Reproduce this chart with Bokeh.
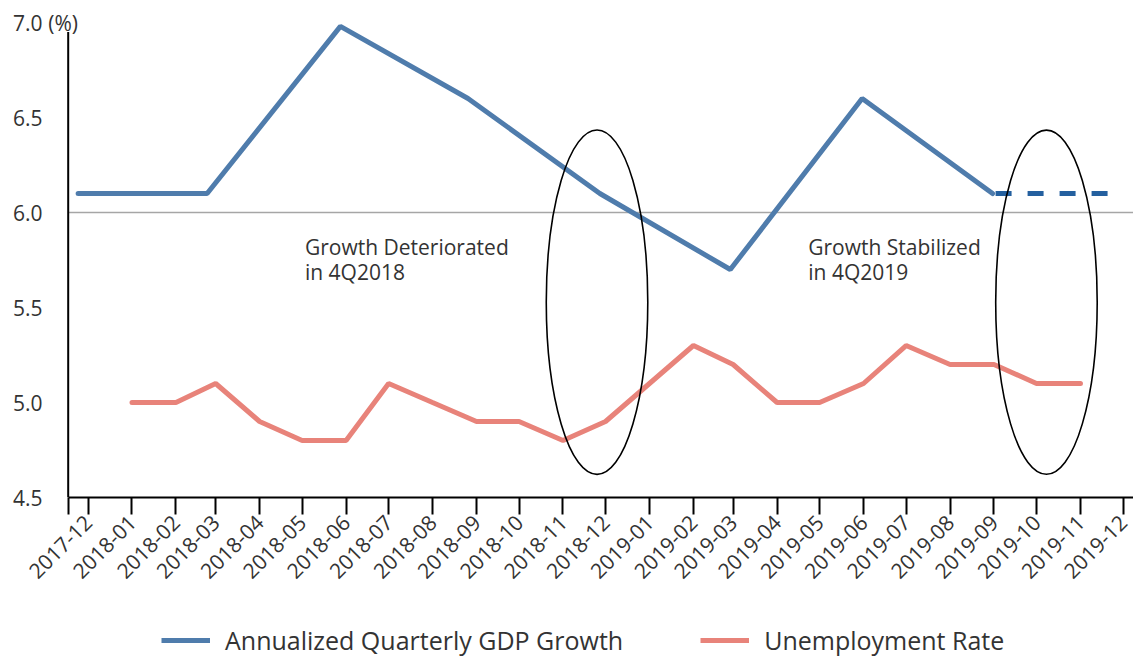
import math
import pandas as pd
from bokeh.plotting import figure
from bokeh.layouts import column
from bokeh.models import (FixedTicker, DatetimeTickFormatter, Legend, LegendItem,
                          ColumnDataSource)
from bokeh.embed import file_html
from bokeh.resources import INLINE
from bokeh.core.properties import value

# ---------------- data ----------------
month_labels = ["2017-12", "2018-01", "2018-02", "2018-03", "2018-04", "2018-05",
                "2018-06", "2018-07", "2018-08", "2018-09", "2018-10", "2018-11",
                "2018-12", "2019-01", "2019-02", "2019-03", "2019-04", "2019-05",
                "2019-06", "2019-07", "2019-08", "2019-09", "2019-10", "2019-11",
                "2019-12"]

gdp_dates = ["2017-11-24", "2018-02-23", "2018-05-28", "2018-08-26",
             "2018-11-27", "2019-02-27", "2019-05-31", "2019-08-31"]
gdp_values = [6.1, 6.1, 6.98, 6.6, 6.1, 5.7, 6.6, 6.1]

gdp_proj_dates = ["2019-08-31", "2019-11-21"]
gdp_proj_values = [6.1, 6.1]

unemp_months = ["2018-01", "2018-02", "2018-03", "2018-04", "2018-05", "2018-06",
                "2018-07", "2018-08", "2018-09", "2018-10", "2018-11", "2018-12",
                "2019-01", "2019-02", "2019-03", "2019-04", "2019-05", "2019-06",
                "2019-07", "2019-08", "2019-09", "2019-10", "2019-11"]
unemp_values = [5.0, 5.0, 5.1, 4.9, 4.8, 4.8, 5.1, 5.0, 4.9, 4.9, 4.8, 4.9,
                5.1, 5.3, 5.2, 5.0, 5.0, 5.1, 5.3, 5.2, 5.2, 5.1, 5.1]

y_ticks = [4.5, 5.0, 5.5, 6.0, 6.5, 7.0]
y_tick_labels = ["4.5", "5.0", "5.5", "6.0", "6.5", "7.0"]
y_unit = "(%)"
reference_level = 6.0

series_names = ["Annualized Quarterly GDP Growth", "Unemployment Rate"]
note_texts = ["Growth Deteriorated\nin 4Q2018", "Growth Stabilized\nin 4Q2019"]
note_dates = ["2018-05-03", "2019-04-23"]
ellipse_dates = ["2018-11-25", "2019-10-08"]

# ---------------- styling ----------------
FONT = "Open Sans"
TXT = "#333333"
BLUE = "#4f7cac"
BLUE_DARK = "#24609f"
SALMON = "#e8837a"
W = 1133
H_MAIN = 607
H_LEG = 52
FRAME_LEFT = 42

def ms(d):
    return pd.Timestamp(d).value / 1e6

axis_x = ms("2017-11-17")          # where the value axis line sits
view_start = ms("2017-10-29 21:00")
view_end = ms("2019-12-08 09:30")
axis_top = 6.95
y_base = y_ticks[0]

p = figure(width=W, height=H_MAIN, x_axis_type="datetime",
           x_range=(view_start, view_end), y_range=(y_base, 7.116),
           output_backend="svg", toolbar_location=None,
           min_border_left=FRAME_LEFT, min_border_right=0, min_border_top=0,
           min_border_bottom=H_MAIN - 497)
p.outline_line_color = None
p.grid.visible = False
p.background_fill_color = "white"
p.border_fill_color = "white"

# reference line at 6.0 (starts at the value axis)
p.segment(x0=[axis_x], y0=[reference_level], x1=[view_end], y1=[reference_level],
          line_color="#a6a6a6", line_width=1.5)

gdp_src = ColumnDataSource(dict(x=pd.to_datetime(gdp_dates), y=gdp_values))
proj_src = ColumnDataSource(dict(x=pd.to_datetime(gdp_proj_dates), y=gdp_proj_values))
un_src = ColumnDataSource(dict(x=pd.to_datetime(unemp_months), y=unemp_values))

p.line("x", "y", source=gdp_src, line_color=BLUE, line_width=5, line_cap="round")
p.line("x", "y", source=proj_src, line_color=BLUE_DARK, line_width=5,
       line_dash="16 16", line_dash_offset=-3)
p.line("x", "y", source=un_src, line_color=SALMON, line_width=5, line_cap="round")

# ellipses
ell_src = ColumnDataSource(dict(x=[ms(d) for d in ellipse_dates],
                                y=[5.528, 5.528]))
p.ellipse("x", "y", width=71.6 * 86400000, height=1.814, source=ell_src,
          fill_color=None, line_color="black", line_width=1.6)

# notes
note_src = ColumnDataSource(dict(x=[ms(d) for d in note_dates],
                                 y=[5.89, 5.89], t=note_texts))
p.text("x", "y", text="t", source=note_src, text_font=value(FONT),
       text_font_size="21px", text_color=TXT, text_baseline="top",
       text_align="left", text_line_height=0.87)

# value axis line and unit
p.segment(x0=[axis_x], y0=[y_base], x1=[axis_x], y1=[axis_top],
          line_color="black", line_width=2)
p.text(x=[axis_x], y=[y_ticks[-1]], text=[y_unit], text_font=value(FONT),
       text_font_size="21px", text_color=TXT, text_baseline="middle",
       text_align="left", x_offset=-20)

# y axis: only its labels are shown (line drawn above at the axis position)
ya = p.yaxis[0]
ya.ticker = FixedTicker(ticks=y_ticks)
ya.major_label_overrides = dict(zip(y_ticks, y_tick_labels))
ya.axis_line_color = None
ya.major_tick_line_color = None
ya.minor_tick_line_color = None
ya.major_tick_out = 0
ya.major_tick_in = 0
ya.major_label_standoff = 0
ya.major_label_text_font = FONT
ya.major_label_text_font_size = "21px"
ya.major_label_text_color = TXT

# x axis
xa = p.xaxis[0]
xa.bounds = (axis_x, view_end)
xa.ticker = FixedTicker(ticks=[ms(m) for m in month_labels], minor_ticks=[axis_x])
fmt = "%Y-%m"
xa.formatter = DatetimeTickFormatter(milliseconds=fmt, seconds=fmt, minsec=fmt,
                                     minutes=fmt, hourmin=fmt, hours=fmt,
                                     days=fmt, months=fmt, years=fmt)
xa.major_label_orientation = math.pi / 4
xa.axis_line_color = "black"
xa.axis_line_width = 2
xa.major_tick_line_color = "black"
xa.major_tick_line_width = 2
xa.major_tick_out = 17
xa.major_tick_in = 0
xa.minor_tick_line_color = "black"
xa.minor_tick_line_width = 2
xa.minor_tick_out = 17
xa.minor_tick_in = 0
xa.major_label_standoff = 4
xa.major_label_text_font = FONT
xa.major_label_text_font_size = "21px"
xa.major_label_text_color = TXT

# legend strip
lg = figure(width=W, height=H_LEG, output_backend="svg", toolbar_location=None,
            x_axis_location=None, y_axis_location=None,
            x_range=(0, 1), y_range=(0, 1), min_border=0,
            min_border_left=0, min_border_right=0)
lg.outline_line_color = None
lg.grid.visible = False
r_gdp = lg.line(x=[-2, -1], y=[-2, -1], line_color=BLUE, line_width=5)
r_un = lg.line(x=[-2, -1], y=[-2, -1], line_color=SALMON, line_width=5)
legend = Legend(items=[LegendItem(label=series_names[0], renderers=[r_gdp]),
                       LegendItem(label=series_names[1], renderers=[r_un])],
                orientation="horizontal", location=(161 - FRAME_LEFT, 2),
                glyph_width=49, glyph_height=20, label_standoff=15, spacing=77,
                padding=0, margin=0, border_line_color=None,
                background_fill_alpha=0, label_text_line_height=1.0,
                label_text_font=FONT, label_text_font_size="25px",
                label_text_color=TXT)
lg.add_layout(legend, "center")

layout = column(p, lg, spacing=0)
open("out.html", "w").write(file_html(layout, INLINE))
